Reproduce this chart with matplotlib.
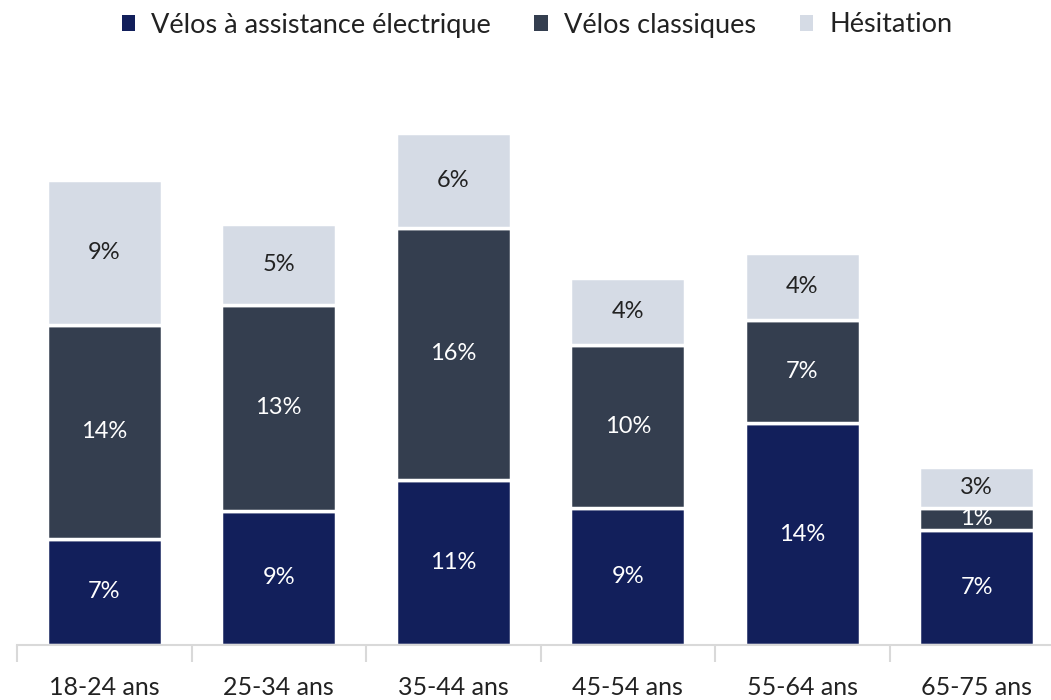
import numpy as np
import matplotlib.pyplot as plt

plt.rcParams['font.family'] = ['Lato', 'DejaVu Sans']
plt.rcParams['font.weight'] = 'normal'

categories = ['18-24 ans', '25-34 ans', '35-44 ans', '45-54 ans', '55-64 ans', '65-75 ans']
series_names = ['Vélos à assistance électrique', 'Vélos classiques', 'Hésitation']
electrique = [6.8, 8.6, 10.6, 8.8, 14.2, 7.4]
classique = [13.7, 13.2, 16.1, 10.4, 6.6, 1.4]
hesitation = [9.3, 5.2, 6.1, 4.3, 4.3, 2.6]
colors = ['#121f5b', '#343e4f', '#d5dbe5']
text_colors = ['white', 'white', '#222222']

fig = plt.figure(figsize=(10.51, 7), dpi=100)
ax = fig.add_axes([17 / 1051, 55 / 700, 1047 / 1051, 565 / 700])

x = np.arange(len(categories))
bottom = np.zeros(len(categories))
for vals, name, c, tc in zip([electrique, classique, hesitation], series_names, colors, text_colors):
    vals = np.array(vals)
    ax.bar(x, vals, 0.66, bottom=bottom, color=c, edgecolor='white', linewidth=2.5, label=name)
    for xi, b, v in zip(x, bottom, vals):
        ax.text(xi, b + v / 2, f"{round(v)}%", ha='center', va='center',
                color=tc, fontsize=17)
    bottom += vals

ax.set_xlim(-0.5, len(categories) - 0.5)
ax.set_ylim(0, 36.2)
for s in ['top', 'right', 'left']:
    ax.spines[s].set_visible(False)
ax.spines['bottom'].set_color('#d9d9d9')
ax.spines['bottom'].set_linewidth(1.5)
ax.set_yticks([])
ax.set_xticks(x)
ax.set_xticklabels(categories, fontsize=18, color='#222222')
ax.tick_params(axis='x', which='major', length=0, pad=22)
ax.set_xticks(np.arange(-0.5, len(categories), 1), minor=True)
ax.tick_params(axis='x', which='minor', length=12, color='#d9d9d9', width=1.5)

leg = fig.legend(loc='center', bbox_to_anchor=(537 / 1051, 1 - 25 / 700), ncol=3,
                 frameon=False, fontsize=19.5, handlelength=0.5, handleheight=0.5,
                 handletextpad=0.6, columnspacing=1.6)
for t in leg.get_texts():
    t.set_color('#222222')
for h in leg.legend_handles:
    h.set_edgecolor('none')

fig.savefig('out.png', dpi=100)
